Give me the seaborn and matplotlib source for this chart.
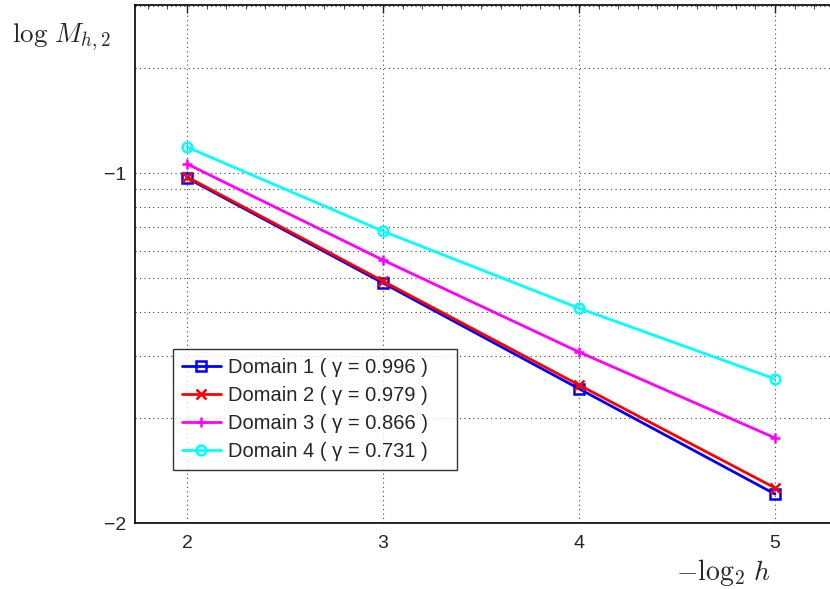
import numpy as np
import pandas as pd
import matplotlib
matplotlib.use("Agg")
import matplotlib.pyplot as plt
import matplotlib.ticker as mticker
import seaborn as sns

# Data (values of M_{h,2})
x_vals = [2, 3, 4, 5]
domain1 = [0.0968, 0.0485, 0.0242, 0.0121]
domain2 = [0.0975, 0.0491, 0.0248, 0.0126]
domain3 = [0.1062, 0.0564, 0.0308, 0.0175]
domain4 = [0.1186, 0.0682, 0.0411, 0.0258]
labels = ["Domain 1 ( γ = 0.996 )", "Domain 2 ( γ = 0.979 )",
          "Domain 3 ( γ = 0.866 )", "Domain 4 ( γ = 0.731 )"]
colors = ["#0000ff", "#ff0000", "#ff00ff", "#00ffff"]
markers = ["s", "x", "+", "o"]

sns.set_style("white")
plt.rcParams["font.family"] = ["Liberation Sans", "DejaVu Sans"]
plt.rcParams["mathtext.fontset"] = "cm"

fig = plt.figure(figsize=(8.3, 5.89), dpi=100)
ax = fig.add_axes([135 / 830, 66 / 589, 695 / 830, 518 / 589])

series = [domain1, domain2, domain3, domain4]
for vals, lab, col, mk in zip(series, labels, colors, markers):
    df = pd.DataFrame({"x": x_vals, "M": vals})
    filled = mk in ("s", "o")
    sns.lineplot(data=df, x="x", y="M", ax=ax, color=col, linewidth=2,
                 marker=mk, markersize=7,
                 markerfacecolor="none" if filled else col,
                 markeredgecolor=col, markeredgewidth=1.8, label=lab)

ax.set_yscale("log")
ax.set_ylim(0.01, 0.302)
ax.set_xlim(1.735, 1.735 + 695 / 196)
ax.set_xticks(x_vals)
ax.xaxis.set_minor_locator(mticker.AutoMinorLocator(10))
ax.yaxis.set_major_locator(mticker.LogLocator(base=10, numticks=10))
ax.yaxis.set_minor_locator(mticker.LogLocator(base=10, subs=np.arange(2, 10), numticks=20))
ax.yaxis.set_major_formatter(mticker.FuncFormatter(
    lambda v, p: str(int(round(np.log10(v)))).replace("-", "\u2212")))
ax.yaxis.set_minor_formatter(mticker.NullFormatter())

grid_kw = dict(linestyle=(0, (1, 3)), color="#444444", linewidth=0.8)
ax.grid(True, which="major", axis="x", **grid_kw)
ax.grid(True, which="both", axis="y", **grid_kw)

ax.tick_params(which="both", direction="in", top=True, right=False, labelsize=14)
ax.tick_params(which="major", length=6, width=1)
ax.tick_params(which="minor", length=3, width=0.6)
ax.tick_params(axis="x", pad=9)
ax.tick_params(axis="y", pad=6)
for side in ["left", "bottom", "top"]:
    ax.spines[side].set_color("black")
    ax.spines[side].set_linewidth(1.2)
ax.spines["right"].set_visible(False)

ax.set_xlabel("")
ax.set_ylabel("")

leg = ax.legend(loc="lower left", bbox_to_anchor=(0.055, 0.102, 0.4086, 0.23),
                mode="expand", fontsize=14.5,
                frameon=True, fancybox=False, edgecolor="black",
                handlelength=1.9, handletextpad=0.35, borderpad=0.45,
                labelspacing=0.45, borderaxespad=0)
leg.get_frame().set_linewidth(1.0)

fig.text(12 / 830, 1 - 37 / 589, r"$\log\,M_{h,2}$", fontsize=19.5, va="center", ha="left")
fig.text(724 / 830, 1 - 572 / 589, r"$-\log_2\,h$", fontsize=20, va="center", ha="center")

fig.savefig("out.png", dpi=100)
plt.close(fig)
